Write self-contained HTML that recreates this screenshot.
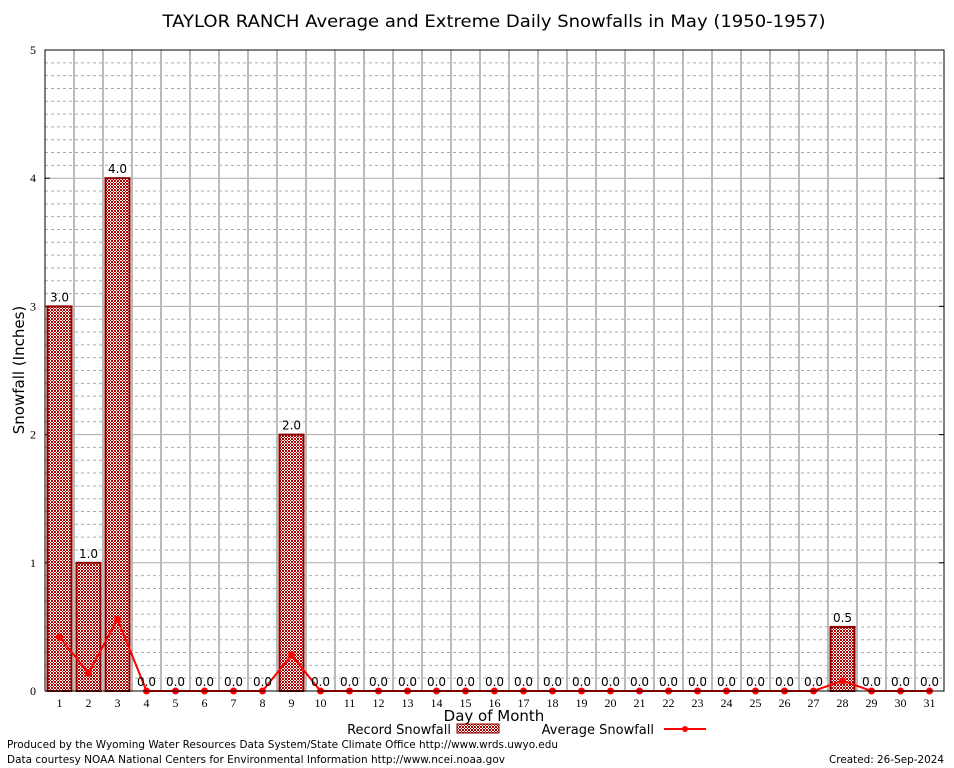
<!DOCTYPE html>
<html><head><meta charset="utf-8"><style>
body{margin:0;background:#fff;width:954px;height:768px;overflow:hidden}
svg{display:block;font-family:"DejaVu Sans","Liberation Sans",sans-serif}
</style></head><body>
<svg id="c" width="954" height="768">
<defs><pattern id="hatch" width="3" height="3" patternUnits="userSpaceOnUse"><rect width="3" height="3" fill="#fff"/><rect width="2" height="2" fill="#b00000"/><rect x="2" y="2" width="1" height="1" fill="#b00000"/></pattern></defs>
<text x="494" y="27" text-anchor="middle" font-size="17" textLength="663" lengthAdjust="spacingAndGlyphs">TAYLOR RANCH Average and Extreme Daily Snowfalls in May (1950-1957)</text>
<g id="grid"></g><g id="bars"></g><g id="line"></g><g id="labels"></g>
<rect x="45" y="50" width="899" height="641" fill="none" stroke="#000"/>
<text transform="translate(24,370) rotate(-90)" text-anchor="middle" font-size="15">Snowfall (Inches)</text>
<text x="494" y="721" text-anchor="middle" font-size="15">Day of Month</text>
<g>
<text x="451" y="734" text-anchor="end" font-size="13">Record Snowfall</text>
<rect x="457" y="724" width="42" height="9" fill="url(#hatch)" stroke="#8b0000"/>
<text x="654" y="734" text-anchor="end" font-size="13">Average Snowfall</text>
<line x1="664" y1="729" x2="706" y2="729" stroke="red" stroke-width="2"/>
<circle cx="685" cy="729" r="3" fill="red"/>
</g>
<text x="7" y="748" font-size="11" textLength="551" lengthAdjust="spacingAndGlyphs">Produced by the Wyoming Water Resources Data System/State Climate Office http://www.wrds.uwyo.edu</text>
<text x="7" y="763" font-size="11" textLength="498" lengthAdjust="spacingAndGlyphs">Data courtesy NOAA National Centers for Environmental Information http://www.ncei.noaa.gov</text>
<text x="944" y="763" text-anchor="end" font-size="11" textLength="115" lengthAdjust="spacingAndGlyphs">Created:  26-Sep-2024</text>
</svg>
<script>
const days=[];for(let d=1;d<=31;d++)days.push(d);
const recordVals=[3,1,4,0,0,0,0,0,2,0,0,0,0,0,0,0,0,0,0,0,0,0,0,0,0,0,0,0.5,0,0,0];
const avgVals=[0.42,0.14,0.56,0,0,0,0,0,0.28,0,0,0,0,0,0,0,0,0,0,0,0,0,0,0,0,0,0.0,0.08,0,0,0];
const yTicks=[0,1,2,3,4,5];
const NS="http://www.w3.org/2000/svg";
const X=d=>45+(d-0.5)*29, Y=v=>691-v*128.2;
function mk(t,a,p){const e=document.createElementNS(NS,t);for(const k in a)e.setAttribute(k,a[k]);p.appendChild(e);return e;}
const g=document.getElementById('grid'),b=document.getElementById('bars'),l=document.getElementById('line'),lb=document.getElementById('labels');
for(let i=1;i<50;i++){if(i%10===0)continue;const e=mk('line',{x1:45,x2:944,y1:Y(i/10),y2:Y(i/10),stroke:'#aaa','stroke-dasharray':'3,3'},g);

}
yTicks.forEach(v=>{const e=mk('line',{x1:45,x2:944,y1:Y(v),y2:Y(v),stroke:'#aaa'},g);


const t=mk('text',{x:36,y:Y(v)+4,'text-anchor':'end','font-size':12,'font-family':'Liberation Serif,serif'},g);t.textContent=v;


mk('line',{x1:45,x2:50,y1:Y(v),y2:Y(v),stroke:'#000'},g);mk('line',{x1:939,x2:944,y1:Y(v),y2:Y(v),stroke:'#000'},g);});
days.forEach((d,i)=>{if(i>0){const e=mk('line',{x1:X(d)-14.5,x2:X(d)-14.5,y1:50,y2:691,stroke:'#bbb','stroke-width':2},g);

}
const t=mk('text',{x:X(d),y:707,'text-anchor':'middle','font-size':12,'font-family':'Liberation Serif,serif'},g);t.textContent=d;


const v=recordVals[i];
if(v>0){const r=mk('rect',{x:X(d)-12,y:Y(v),width:24,height:Y(0)-Y(v),fill:'url(#hatch)',stroke:'#8b0000','stroke-width':2},b);

}
const tl=mk('text',{x:X(d),y:Y(v)-5,'text-anchor':'middle','font-size':12},lb);tl.textContent=v.toFixed(1);

});
const pts=days.map((d,i)=>X(d)+','+Y(avgVals[i])).join(' ');
const pl=mk('polyline',{points:pts,fill:'none',stroke:'red','stroke-width':2},l);


days.forEach((d,i)=>{const c=mk('circle',{cx:X(d),cy:Y(avgVals[i]),r:3.5,fill:'red'},l);

});
</script>
</body></html>
